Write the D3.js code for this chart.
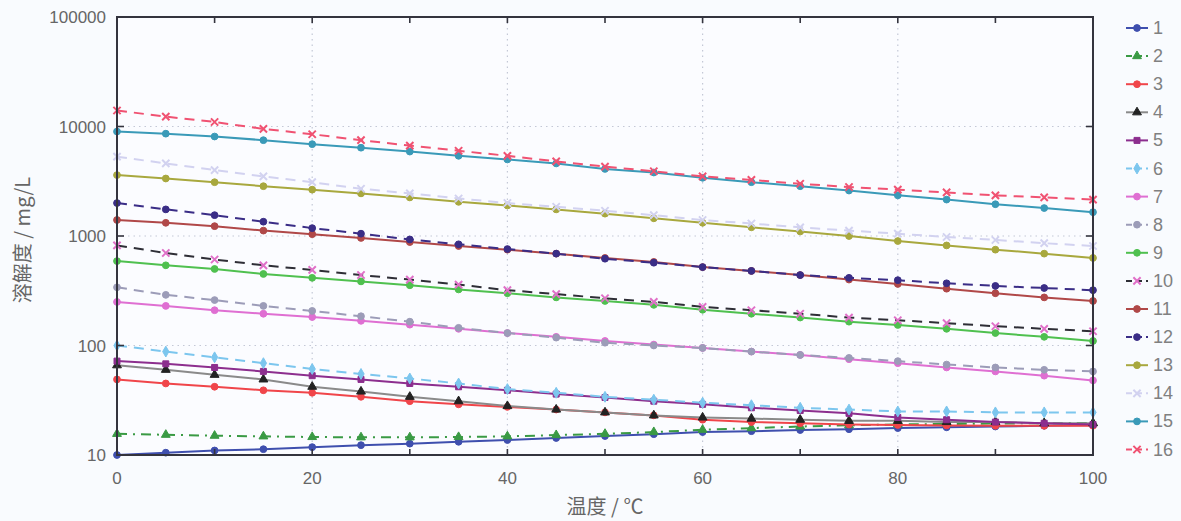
<!DOCTYPE html>
<html><head><meta charset="utf-8">
<script src="https://cdn.jsdelivr.net/npm/d3@7"></script>
<style>body{margin:0;background:#f9fbfe;}svg{display:block;}</style>
</head><body><svg id="c" width="1181" height="521"></svg>
<script>
const temps = [0,5,10,15,20,25,30,35,40,45,50,55,60,65,70,75,80,85,90,95,100];
const seriesNames = ["1","2","3","4","5","6","7","8","9","10","11","12","13","14","15","16"];
const s1  = [10,10.5,11,11.3,11.8,12.3,12.7,13.2,13.7,14.3,14.9,15.5,16.2,16.5,16.9,17.2,17.6,17.9,18.2,18.5,18.8];
const s2  = [15.6,15.3,15.0,14.8,14.6,14.5,14.5,14.6,14.8,15.2,15.6,16.2,17,17.6,18.2,18.7,19,19.2,19.4,19.5,19.6];
const s3  = [49,45,42,39,37,34,31,29,27.5,26,24.5,23,21,20,19.5,19,18.8,18.6,18.5,18.5,18.5];
const s4  = [66,60,54,49,42,38,34,31,28,26,24.5,23,22,21.5,21,20.5,20.5,20,20,19.5,19.5];
const s5  = [72,68,63,58,53,49,45,42,39,36,33.5,31,29,27,25.5,24,22,21,20,19.5,19];
const s6  = [100,88,78,69,61,55,50,45,40,37,34,32,30,28.5,27,26,25,25,24.5,24.5,24.5];
const s7  = [250,230,210,195,182,168,155,142,130,120,110,102,95,88,82,75,69,63,58,53,48];
const s8  = [340,290,260,230,207,185,165,145,130,118,106,100,95,88,82,77,72,67,63,60,58];
const s9  = [590,540,500,450,415,385,355,325,300,275,255,235,212,195,180,165,154,142,130,120,110];
const s10 = [820,700,610,540,490,440,400,360,320,295,270,250,225,210,195,180,170,160,150,142,135];
const s11 = [1400,1320,1230,1120,1040,960,880,810,750,690,630,580,520,480,440,400,365,330,300,275,255];
const s12 = [2000,1750,1550,1350,1180,1050,930,840,760,690,620,570,520,480,440,415,395,370,350,335,320];
const s13 = [3600,3350,3100,2850,2650,2450,2250,2050,1900,1750,1600,1450,1320,1200,1100,1000,900,820,750,690,630];
const s14 = [5300,4600,4000,3500,3100,2700,2450,2200,2000,1850,1700,1550,1400,1300,1200,1120,1050,980,920,860,810];
const s15 = [9000,8600,8100,7500,6900,6400,5900,5400,5000,4600,4100,3800,3400,3100,2850,2600,2350,2150,1950,1800,1650];
const s16 = [14000,12300,11000,9500,8500,7500,6700,6000,5400,4800,4300,3900,3500,3250,3000,2800,2650,2500,2350,2250,2150];
const yTicks = [10,100,1000,10000,100000];
const yTickLabels = ["10","100","1000","10000","100000"];
const xTicks = [0,20,40,60,80,100];
const xLabel = "温度 / ℃";
const yLabel = "溶解度 / mg/L";

const allValues = [s1,s2,s3,s4,s5,s6,s7,s8,s9,s10,s11,s12,s13,s14,s15,s16];
const styles = [
  {c:"#3f4fae", m:"#3f4fae", d:null, s:"circle"},
  {c:"#3a9a44", m:"#3a9a44", d:"10,6,2,6", s:"triangle"},
  {c:"#f0454a", m:"#f0454a", d:null, s:"circle"},
  {c:"#8a8a8a", m:"#222222", d:null, s:"triangle"},
  {c:"#8c2e8e", m:"#8c2e8e", d:null, s:"square"},
  {c:"#7cc6ee", m:"#7cc6ee", d:"10,7", s:"diamond"},
  {c:"#df6fd2", m:"#df6fd2", d:null, s:"circle"},
  {c:"#9c9cb8", m:"#9c9cb8", d:"10,7", s:"circle"},
  {c:"#4fc04f", m:"#4fc04f", d:null, s:"circle"},
  {c:"#2e2e36", m:"#e070c8", d:"10,7", s:"cross"},
  {c:"#b04848", m:"#b04848", d:null, s:"circle"},
  {c:"#3a2d86", m:"#3a2d86", d:"10,7", s:"circle"},
  {c:"#a8a83e", m:"#a8a83e", d:null, s:"circle"},
  {c:"#d2d2f0", m:"#d2d2f0", d:"10,7", s:"cross"},
  {c:"#3a9ab8", m:"#3a9ab8", d:null, s:"circle"},
  {c:"#f05272", m:"#f05272", d:"10,7", s:"cross"}
];

const svg = d3.select("#c");
const L=117, R=1093, T=17, B=455;
const x = d3.scaleLinear().domain([0,100]).range([L,R]);
const y = d3.scaleLog().domain([10,100000]).range([B,T]);

svg.append("rect").attr("x",L).attr("y",T).attr("width",R-L).attr("height",B-T).attr("fill","#fbfcff");

const g = svg.append("g");
g.selectAll("line.gx").data([20,40,60,80]).join("line")
  .attr("x1",d=>x(d)).attr("x2",d=>x(d)).attr("y1",T).attr("y2",B)
  .attr("stroke","#c4c8d6").attr("stroke-dasharray","1.5,4").attr("stroke-width",1.2);
g.selectAll("line.gy").data([100,1000,10000]).join("line")
  .attr("x1",L).attr("x2",R).attr("y1",d=>y(d)).attr("y2",d=>y(d))
  .attr("stroke","#c4c8d6").attr("stroke-dasharray","1.5,4").attr("stroke-width",1.2);

const line = d3.line().x((d,i)=>x(temps[i])).y(d=>y(d));
const sym = {circle:d3.symbolCircle, triangle:d3.symbolTriangle, square:d3.symbolSquare, diamond:d3.symbolDiamond, cross:d3.symbolX};
const symSize = {circle:36, triangle:34, square:36, diamond:34, cross:36};
function drawMarker(sel, st){
  const p = d3.symbol().type(sym[st.s]).size(symSize[st.s]);
  sel.append("path").attr("d",p())
    .attr("fill", st.s==="cross" ? "none" : st.m)
    .attr("stroke", st.m).attr("stroke-width", st.s==="cross"?2:1);
}
allValues.forEach((vals,k)=>{
  const st = styles[k];
  const gs = svg.append("g");
  gs.append("path").datum(vals).attr("d",line).attr("fill","none")
    .attr("stroke",st.c).attr("stroke-width",2).attr("stroke-dasharray",st.d);
  vals.forEach((v,i)=>{
    const m = gs.append("g").attr("transform",`translate(${x(temps[i])},${y(v)})`);
    drawMarker(m, st);
  });
});

svg.append("rect").attr("x",L).attr("y",T).attr("width",R-L).attr("height",B-T)
  .attr("fill","none").attr("stroke","#34343e").attr("stroke-width",2);

const xt = d3.range(0,101,10);
const ax = svg.append("g").attr("stroke","#34343e").attr("stroke-width",1.6);
xt.forEach(t=>{
  ax.append("line").attr("x1",x(t)).attr("x2",x(t)).attr("y1",B).attr("y2",B-6);
  ax.append("line").attr("x1",x(t)).attr("x2",x(t)).attr("y1",T).attr("y2",T+6);
});
yTicks.forEach(t=>{
  ax.append("line").attr("x1",L).attr("x2",L+7).attr("y1",y(t)).attr("y2",y(t));
  ax.append("line").attr("x1",R).attr("x2",R-7).attr("y1",y(t)).attr("y2",y(t));
});

svg.selectAll("text.xt").data(xTicks).join("text")
  .attr("x",d=>x(d)).attr("y",484).attr("text-anchor","middle")
  .attr("font-family","'Liberation Sans', Arial, sans-serif").attr("font-size",17).attr("fill","#666")
  .text(d=>d);
svg.selectAll("text.yt").data(yTicks).join("text")
  .attr("x",106).attr("y",d=>y(d)+6).attr("text-anchor","end")
  .attr("font-family","'Liberation Sans', Arial, sans-serif").attr("font-size",17).attr("fill","#666")
  .text((d,i)=>yTickLabels[i]);

svg.append("text").attr("x",(L+R)/2).attr("y",514).attr("text-anchor","middle")
  .attr("font-family","'Noto Sans CJK SC', sans-serif").attr("font-size",20).attr("fill","#666").text(xLabel);
svg.append("text").attr("transform","translate(30,240) rotate(-90)").attr("text-anchor","middle")
  .attr("font-family","'Noto Sans CJK SC', sans-serif").attr("font-size",20).attr("fill","#666").text(yLabel);

const lg = svg.append("g");
seriesNames.forEach((n,k)=>{
  const st = styles[k];
  const yy = 28 + k*28.1;
  lg.append("line").attr("x1",1126).attr("x2",1148).attr("y1",yy).attr("y2",yy)
    .attr("stroke",st.c).attr("stroke-width",2).attr("stroke-dasharray", st.d ? "6,4" : null);
  const m = lg.append("g").attr("transform",`translate(1137,${yy})`);
  drawMarker(m, st);
  lg.append("text").attr("x",1153).attr("y",yy+6).attr("font-family","'Liberation Sans', Arial, sans-serif")
    .attr("font-size",18).attr("fill","#808080").text(n);
});
</script></body></html>
